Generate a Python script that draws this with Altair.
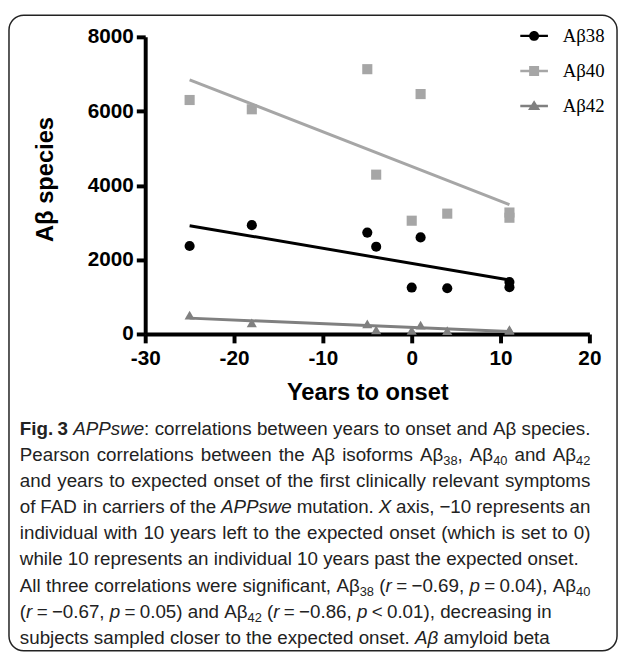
import altair as alt
import pandas as pd

# ---------------- data ----------------
years = [-25, -18, -5, -4, 0, 1, 4, 11, 11]
ab38 = [2370, 2930, 2730, 2350, 1250, 2600, 1230, 1400, 1260]
ab40 = [6300, 6050, 7130, 4290, 3050, 6460, 3240, 3270, 3130]
ab42 = [510, 300, 270, 110, 100, 240, 90, 120, 100]
series_names = ["Aβ38", "Aβ40", "Aβ42"]
series_colors = ["#000000", "#a6a6a6", "#808080"]
x_ticks = [-30, -20, -10, 0, 10, 20]
y_ticks = [0, 2000, 4000, 6000, 8000]

# "~" marks a fixed (non-stretching) space inside the caption
caption_lines = [
    ([("b", "Fig.~3"), ("r", " "), ("i", "APPswe"),
      ("r", ": correlations between years to onset and Aβ species.")], True),
    ([("r", "Pearson correlations between the Aβ isoforms Aβ"), ("s", "38"),
      ("r", ", Aβ"), ("s", "40"), ("r", " and Aβ"), ("s", "42")], True),
    ([("r", "and years to expected onset of the first clinically relevant symptoms")], True),
    ([("r", "of FAD in carriers of the "), ("i", "APPswe"), ("r", " mutation. "),
      ("i", "X"), ("r", " axis, −10 represents an")], True),
    ([("r", "individual with 10 years left to the expected onset (which is set to 0)")], True),
    ([("r", "while 10 represents an individual 10 years past the expected onset.")], False),
    ([("r", "All three correlations were significant, Aβ"), ("s", "38"), ("r", " ("),
      ("i", "r"), ("r", "~=~−0.69, "), ("i", "p"),
      ("r", "~=~0.04), Aβ"), ("s", "40")], True),
    ([("r", "("), ("i", "r"), ("r", "~=~−0.67, "), ("i", "p"),
      ("r", "~=~0.05) and Aβ"), ("s", "42"), ("r", " ("), ("i", "r"),
      ("r", "~=~−0.86, "), ("i", "p"),
      ("r", "~<~0.01), decreasing in")], False),
    ([("r", "subjects sampled closer to the expected onset. "), ("i", "Aβ"),
      ("r", " amyloid beta")], False),
]

# ---------------- caption layout (Arial / Liberation Sans metrics) ----------------
FS = 19
SUB = 13
REG = {" ": 278, "(": 333, ")": 333, ",": 278, "-": 333, ".": 278, ":": 278,
       "<": 584, "=": 584, "−": 584, "β": 575}
for c in "0123456789":
    REG[c] = 556
for c, w in zip("ABCDEFGHIJKLMNOPQRSTUVWXYZ",
                [667, 667, 722, 722, 667, 611, 778, 722, 278, 500, 667, 556, 833, 722, 778,
                 667, 778, 722, 667, 611, 722, 667, 944, 667, 667, 611]):
    REG[c] = w
for c, w in zip("abcdefghijklmnopqrstuvwxyz",
                [556, 556, 500, 556, 556, 278, 556, 556, 222, 222, 500, 222, 833, 556, 556,
                 556, 556, 333, 500, 278, 556, 500, 722, 500, 500, 500]):
    REG[c] = w
BOLD = {"F": 611, "i": 278, "g": 611, ".": 278, "3": 556, " ": 278}


def tw(text, sty):
    size = SUB if sty == "s" else FS
    table = BOLD if sty == "b" else REG
    return sum(table.get(c, 556) for c in text) * size / 1000.0


OX, OY = 147, 33          # plot origin on the page
left = 20 - OX
target = 578
base0 = 436 - OY
lead = 26.5
space_w = 278 * FS / 1000.0
fixed_w = 230 * FS / 1000.0

rows = []
for i, (segs, just) in enumerate(caption_lines):
    tokens = []
    for sty, txt in segs:
        parts = txt.split(" ")
        for j, p in enumerate(parts):
            if j > 0:
                tokens.append(("sp", None, None))
            sub = p.split("~")
            for k, q in enumerate(sub):
                if k > 0:
                    tokens.append(("fx", None, None))
                if q:
                    tokens.append(("w", sty, q))
    nsp = sum(1 for t in tokens if t[0] == "sp")
    nfx = sum(1 for t in tokens if t[0] == "fx")
    natural = (sum(tw(t[2], t[1]) for t in tokens if t[0] == "w")
               + nsp * space_w + nfx * fixed_w)
    extra = (target - natural) / nsp if (just and nsp) else 0.0
    x = left
    yb = base0 + i * lead
    for kind, sty, txt in tokens:
        if kind == "sp":
            x += space_w + extra
        elif kind == "fx":
            x += fixed_w
        else:
            rows.append({"t": txt, "px": x, "py": yb + (4 if sty == "s" else 0), "sty": sty})
            x += tw(txt, sty)
cap = pd.DataFrame(rows)

# ---------------- chart ----------------
df = pd.DataFrame({
    "x": years * 3,
    "y": ab38 + ab40 + ab42,
    "series": [n for n in series_names for _ in years],
})

xscale = alt.Scale(domain=[-30, 20], nice=False, zero=False)
yscale = alt.Scale(domain=[0, 8000], nice=False)
cscale = alt.Scale(domain=series_names, range=series_colors)

xaxis = alt.Axis(values=x_ticks, labelExpr="'' + datum.value", title="Years to onset",
                 grid=False, domainColor="black", domainWidth=4, tickColor="black",
                 tickWidth=4, tickSize=9, labelFont="Liberation Sans", labelFontSize=21,
                 labelFontWeight="bold", labelColor="black", labelPadding=5,
                 titleFont="Liberation Sans", titleFontSize=24, titleFontWeight="bold",
                 titleColor="black", titlePadding=12, labelFlush=False)
yaxis = alt.Axis(values=y_ticks, labelExpr="'' + datum.value", title="Aβ species",
                 grid=False, domainColor="black", domainWidth=4, tickColor="black",
                 tickWidth=4, tickSize=9, labelFont="Liberation Sans", labelFontSize=21,
                 labelFontWeight="bold", labelColor="black", labelPadding=3,
                 titleFont="Liberation Sans", titleFontSize=24, titleFontWeight="bold",
                 titleColor="black", titlePadding=30, titleY=144, labelFlush=False)

lines = alt.Chart(df).transform_regression(
    "x", "y", groupby=["series"]
).mark_line(strokeWidth=3).encode(
    x=alt.X("x:Q", scale=xscale, axis=xaxis),
    y=alt.Y("y:Q", scale=yscale, axis=yaxis),
    color=alt.Color("series:N", scale=cscale, legend=None),
)

points = alt.Chart(df).mark_point(filled=True, size=105, opacity=1).encode(
    x=alt.X("x:Q", scale=xscale),
    y=alt.Y("y:Q", scale=yscale),
    color=alt.Color("series:N", scale=cscale, legend=None),
    shape=alt.Shape("series:N",
                    scale=alt.Scale(domain=series_names,
                                    range=["circle", "square", "triangle-up"]),
                    legend=None),
)

bar = "M-1,-0.09L1,-0.09L1,0.09L-1,0.09Z"
legend_paths = [
    bar + "M0.36,0A0.36,0.36 0 1,1 -0.36,0A0.36,0.36 0 1,1 0.36,0Z",
    bar + "M-0.36,-0.36L0.36,-0.36L0.36,0.36L-0.36,0.36Z",
    bar + "M0,-0.42L0.44,0.3L-0.44,0.3Z",
]
leg = alt.Legend(title=None, orient="none", legendX=380, legendY=-15, symbolSize=784,
                 labelFont="Liberation Serif", labelFontSize=19, labelColor="black",
                 labelOffset=15, rowPadding=11.5, padding=0, symbolStrokeWidth=0,
                 symbolOpacity=1)
legend_layer = alt.Chart(df).transform_filter("datum.x > 1000").mark_point(
    filled=True, opacity=1
).encode(
    x=alt.X("x:Q", scale=xscale),
    y=alt.Y("y:Q", scale=yscale),
    color=alt.Color("series:N", scale=cscale, legend=leg),
    shape=alt.Shape("series:N", scale=alt.Scale(domain=series_names, range=legend_paths),
                    legend=leg),
)

frame = alt.Chart(alt.Data(values=[{"a": 1}])).mark_rect(
    fillOpacity=0, stroke="#222222", strokeWidth=1.5, cornerRadius=15
).encode(
    x=alt.value(9 - OX), x2=alt.value(625 - OX),
    y=alt.value(11 - OY), y2=alt.value(655 - OY),
)


def cap_layer(sty, **kw):
    return alt.Chart(cap).transform_filter(f"datum.sty == '{sty}'").mark_text(
        align="left", baseline="alphabetic", font="Liberation Sans", color="#222222", **kw
    ).encode(
        x=alt.X("px:Q", scale=None, axis=None),
        y=alt.Y("py:Q", scale=None, axis=None),
        text="t:N",
    )


caption = alt.layer(
    cap_layer("r", fontSize=FS),
    cap_layer("i", fontSize=FS, fontStyle="italic"),
    cap_layer("b", fontSize=FS, fontWeight="bold"),
    cap_layer("s", fontSize=SUB),
)

chart = alt.layer(frame, lines, points, legend_layer, caption).resolve_scale(
    color="independent", shape="independent"
).properties(
    width=450, height=301,
    padding={"left": 139, "top": 25, "right": 30, "bottom": 322},
    autosize=alt.AutoSizeParams(type="none"),
).configure_view(stroke=None)

chart.save("out.html", embed_options={"renderer": "svg", "actions": False})
